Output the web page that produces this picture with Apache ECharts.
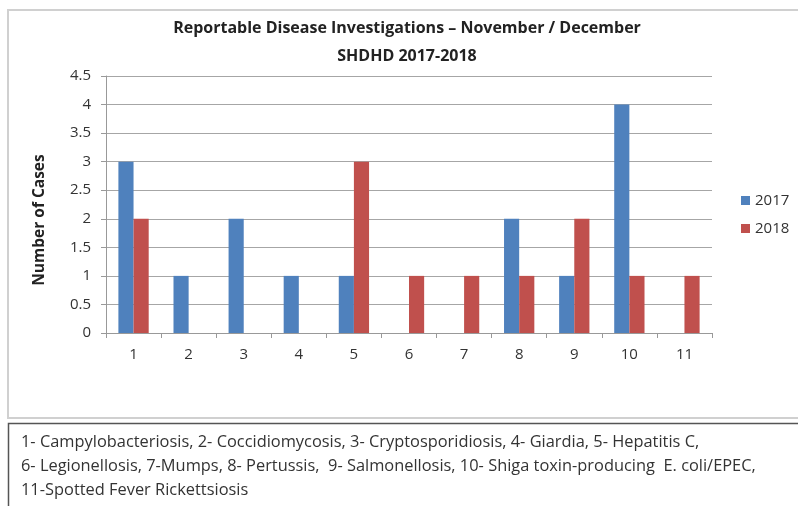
<!DOCTYPE html>
<html><head><meta charset="utf-8">
<script src="https://cdn.jsdelivr.net/npm/echarts@6/dist/echarts.min.js"></script>
<style>html,body{margin:0;padding:0;background:#fff}#c{width:798px;height:506px}</style>
</head><body><div id="c"></div>
<script>
var categories = ['1','2','3','4','5','6','7','8','9','10','11'];
var series2017 = [3,1,2,1,1,0,0,2,1,4,0];
var series2018 = [2,0,0,0,3,1,1,1,2,1,1];
var seriesNames = ['2017','2018'];
var yTicks = {min:0, max:4.5, interval:0.5};
var titleLines = ['Reportable Disease Investigations \u2013 November / December','SHDHD 2017-2018'];
var yName = 'Number of Cases';
var noteLines = [
 '1- Campylobacteriosis, 2- Coccidiomycosis, 3- Cryptosporidiosis, 4- Giardia, 5- Hepatitis C,',
 '6- Legionellosis, 7-Mumps, 8- Pertussis,  9- Salmonellosis, 10- Shiga toxin-producing  E. coli/EPEC,',
 '11-Spotted Fever Rickettsiosis'
];
var font = 'Open Sans, Lato, sans-serif';
var chart = echarts.init(document.getElementById('c'));
chart.setOption({
  animation:false,
  textStyle:{fontFamily:font},
  graphic:[
    {type:'rect',shape:{x:8,y:10,width:800,height:408},style:{fill:'none',stroke:'#d0d0d0',lineWidth:2},z:-1},
    {type:'rect',shape:{x:8.5,y:423.5,width:800,height:100},style:{fill:'none',stroke:'#555',lineWidth:1.5},z:-1},
    {type:'text',style:{text:titleLines[0],x:407,y:28,align:'center',verticalAlign:'middle',font:'bold 16px '+font,fill:'#222'}},
    {type:'text',style:{text:titleLines[1],x:407,y:56,align:'center',verticalAlign:'middle',font:'bold 16px '+font,fill:'#222'}},
    {type:'text',x:40,y:220,rotation:Math.PI/2,style:{text:yName,x:0,y:0,align:'center',verticalAlign:'middle',font:'bold 15.5px '+font,fill:'#222'}},
    {type:'text',style:{text:noteLines.join('\n'),x:21,y:430,font:'16.4px '+font,fill:'#333',lineHeight:24}}
  ],
  grid:{left:106,right:86,top:76,bottom:173,containLabel:false},
  legend:{orient:'vertical',left:736,top:188,itemWidth:9,itemHeight:9,itemGap:13,
    textStyle:{fontSize:15,color:'#333'},data:seriesNames,icon:'rect'},
  xAxis:{type:'category',data:categories,
    axisLine:{lineStyle:{color:'#999'}},
    axisTick:{show:true,length:5,lineStyle:{color:'#999'}},
    axisLabel:{fontSize:15,color:'#333',margin:14}},
  yAxis:{type:'value',min:yTicks.min,max:yTicks.max,interval:yTicks.interval,
    axisLine:{show:true,lineStyle:{color:'#999'}},
    axisTick:{show:true,length:5,inside:false,lineStyle:{color:'#999'}},
    axisLabel:{fontSize:15,color:'#333',margin:15},
    splitLine:{lineStyle:{color:'#a6a6a6'}}},
  series:[
    {name:seriesNames[0],type:'bar',data:series2017,itemStyle:{color:'#4F81BD'},barGap:'0%',barCategoryGap:'45%'},
    {name:seriesNames[1],type:'bar',data:series2018,itemStyle:{color:'#C0504D'},barGap:'0%',barCategoryGap:'45%'}
  ]
});
</script></body></html>
